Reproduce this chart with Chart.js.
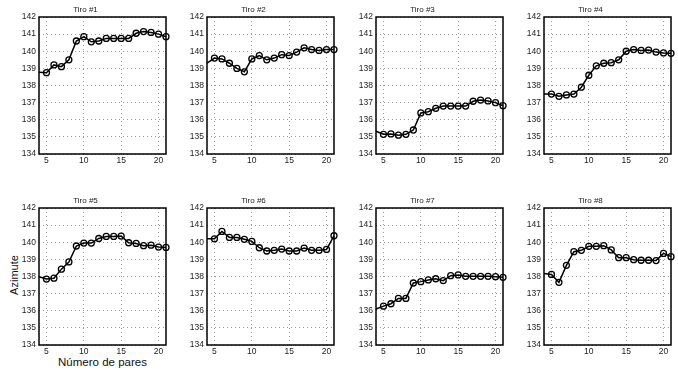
<!DOCTYPE html>
<html>
<head>
<meta charset="utf-8">
<script src="https://cdn.jsdelivr.net/npm/chart.js@4.4.1/dist/chart.umd.min.js"></script>
<style>
  body { margin: 0; background: #fff; width: 678px; height: 370px; position: relative; overflow: hidden; font-family: "Liberation Sans", Arial, sans-serif; }
  canvas { position: absolute; }
  .lbl { position: absolute; color: #111; white-space: nowrap; }
</style>
</head>
<body>
<div class="lbl" id="ylab" style="font-size:11px; left:-8px; top:269px; transform: rotate(-90deg); width:44px; text-align:center;">Azimute</div>
<div class="lbl" id="xlab" style="font-size:11.5px; left:39px; width:127px; text-align:center; top:356px;">Número de pares</div>
<script>
// x positions (number of pairs); first point sits on the left edge, no marker
const pares = [4, 5, 6, 7, 8, 9, 10, 11, 12, 13, 14, 15, 16, 17, 18, 19, 20, 21];
const xTicks = [5, 10, 15, 20];
const titulos = ['Tiro #1', 'Tiro #2', 'Tiro #3', 'Tiro #4', 'Tiro #5', 'Tiro #6', 'Tiro #7', 'Tiro #8'];

const tiro1 = [138.78, 138.75, 139.2, 139.1, 139.5, 140.6, 140.85, 140.55, 140.6, 140.75, 140.75, 140.75, 140.75, 141.05, 141.15, 141.1, 141.0, 140.85];
const tiro2 = [139.3, 139.6, 139.55, 139.3, 139.0, 138.8, 139.55, 139.75, 139.5, 139.6, 139.8, 139.75, 139.95, 140.2, 140.1, 140.05, 140.1, 140.1];
const tiro3 = [135.33, 135.15, 135.17, 135.1, 135.15, 135.4, 136.4, 136.47, 136.67, 136.8, 136.8, 136.8, 136.8, 137.08, 137.15, 137.1, 137.0, 136.82];
const tiro4 = [137.5, 137.5, 137.37, 137.45, 137.5, 137.9, 138.6, 139.15, 139.3, 139.33, 139.5, 140.0, 140.1, 140.05, 140.07, 139.95, 139.9, 139.88];
const tiro5 = [137.98, 137.85, 137.9, 138.43, 138.85, 139.78, 139.95, 139.95, 140.22, 140.34, 140.34, 140.36, 139.97, 139.93, 139.8, 139.83, 139.72, 139.7];
const tiro6 = [140.2, 140.2, 140.63, 140.28, 140.28, 140.17, 140.05, 139.68, 139.49, 139.53, 139.6, 139.49, 139.49, 139.66, 139.53, 139.53, 139.58, 140.38];
const tiro7 = [136.1, 136.27, 136.41, 136.72, 136.72, 137.62, 137.7, 137.8, 137.87, 137.76, 138.05, 138.09, 138.01, 138.01, 138.01, 138.01, 137.99, 137.95];
const tiro8 = [138.18, 138.12, 137.66, 138.65, 139.45, 139.53, 139.76, 139.76, 139.8, 139.55, 139.1, 139.1, 138.98, 138.95, 138.95, 138.93, 139.35, 139.16];
const series = [tiro1, tiro2, tiro3, tiro4, tiro5, tiro6, tiro7, tiro8];

Chart.defaults.font.family = '"Liberation Sans", Arial, sans-serif';
Chart.defaults.color = '#222';

// plot-area placement (MATLAB subplot grid)
const plotLeft = [39, 207, 376, 544];
const plotTop = [17, 208];
const plotW = 127, plotH = 137;
const side = 34, titleH = 17, bottomH = 14;

// black box around the axes, like "box on"
const boxPlugin = {
    id: 'box',
    afterDraw(chart) {
        const a = chart.chartArea;
        const c = chart.ctx;
        c.save();
        c.strokeStyle = '#000';
        c.lineWidth = 1.5;
        c.strokeRect(a.left, a.top, a.right - a.left, a.bottom - a.top);
        c.restore();
    }
};

series.forEach((vals, i) => {
    const row = Math.floor(i / 4), col = i % 4;
    const cv = document.createElement('canvas');
    cv.width = side + plotW + side;
    cv.height = titleH + plotH + bottomH;
    cv.style.left = (plotLeft[col] - side) + 'px';
    cv.style.top = (plotTop[row] - titleH) + 'px';
    document.body.appendChild(cv);

    new Chart(cv, {
        type: 'line',
        data: {
            datasets: [{
                data: pares.map((x, k) => ({ x: x, y: vals[k] })),
                borderColor: '#000',
                borderWidth: 1.5,
                pointRadius: pares.map((x, k) => k === 0 ? 0 : 3),
                pointBorderColor: '#000',
                pointBackgroundColor: 'rgba(0,0,0,0)',
                pointBorderWidth: 1.3,
                tension: 0,
                clip: false
            }]
        },
        options: {
            responsive: false,
            animation: false,
            events: [],
            layout: { padding: { left: 0, right: side, top: 0, bottom: 0 } },
            plugins: {
                legend: { display: false },
                tooltip: { enabled: false },
                title: {
                    display: true,
                    text: titulos[i],
                    font: { size: 8, weight: 'normal', lineHeight: 1.2 },
                    color: '#222',
                    padding: { top: 5, bottom: 2.4 }
                }
            },
            scales: {
                x: {
                    type: 'linear',
                    min: 4,
                    max: 21,
                    afterBuildTicks: s => { s.ticks = xTicks.map(v => ({ value: v })); },
                    afterFit: s => { s.height = bottomH; },
                    ticks: { font: { size: 8.5 }, padding: 2, maxRotation: 0 },
                    grid: { color: '#999', drawTicks: false, tickLength: 0, borderDash: [1, 3] },
                    border: { display: false, dash: [1, 3] }
                },
                y: {
                    min: 134,
                    max: 142,
                    afterFit: s => { s.width = side; },
                    ticks: { stepSize: 1, font: { size: 8.5 }, padding: 3 },
                    grid: { color: '#999', drawTicks: false, tickLength: 0, borderDash: [1, 3] },
                    border: { display: false, dash: [1, 3] }
                }
            }
        },
        plugins: [boxPlugin]
    });
});
</script>
</body>
</html>
